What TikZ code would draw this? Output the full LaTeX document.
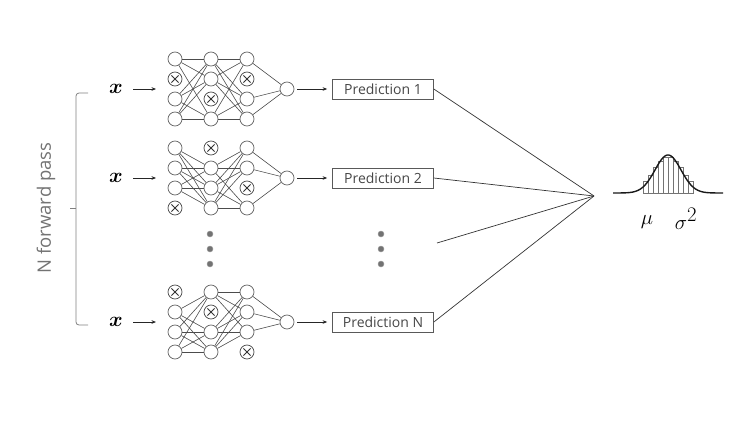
\documentclass[tikz,border=0pt]{standalone}
\usepackage{amsmath}
\usepackage{fontspec}
\newfontfamily\labelfont{Open Sans}
\usetikzlibrary{arrows.meta}
\begin{document}
\begin{tikzpicture}[x=1pt,y=-1pt,
  neuron/.style={circle,draw=black!60,fill=white,line width=0.75pt,minimum size=14pt,inner sep=0pt},
  dropped/.style={neuron,draw=black!70,path picture={
      \draw[line width=0.9pt,black!80]
        ([shift={(-3.6,-3.6)}]path picture bounding box.center) -- ++(7.2,7.2)
        ([shift={(-3.6,3.6)}]path picture bounding box.center) -- ++(7.2,-7.2);}},
  link/.style={draw=black!70,line width=0.6pt},
  arr/.style={draw=black!85,line width=0.7pt,-{Stealth[length=4.5pt,width=3.6pt]}},
  fan/.style={draw=black!80,line width=0.7pt},
  predbox/.style={draw=black!65,line width=0.7pt,minimum width=101pt,minimum height=20pt,
      inner sep=0pt,text=black!72,font=\labelfont\fontsize{14}{14}\selectfont},
  xlabel/.style={inner sep=0pt,font=\fontsize{20.74}{22}\selectfont},
  dot/.style={circle,fill=black!55,draw=black!40,minimum size=6pt,inner sep=0pt},
  brace/.style={draw=black!50,line width=0.8pt,rounded corners=3pt},
  bar/.style={draw=black!55,fill=white,line width=0.45pt}
]
\useasboundingbox (0,0) rectangle (754,420);

% three sampled networks (dropout masks per hidden layer)
\foreach \nn/\cy/\da/\db/\dc/\pl in {1/89/2/3/2/1, 2/178/4/1/3/2, 3/322/1/2/4/N}{
  \foreach \ly/\lx/\dr in {1/175/\da, 2/211/\db, 3/247/\dc}{
    \foreach \r in {1,...,4}{
      \ifnum\r=\dr \def\st{dropped}\else\def\st{neuron}\fi
      \node[\st] (n\nn-\ly-\r) at (\lx,{\cy-50+20*\r}) {};
    }
  }
  \node[neuron] (n\nn-o) at (287,\cy) {};
  % fully connected links between kept units
  \foreach \r in {1,...,4}{
    \foreach \s in {1,...,4}{
      \ifnum\r=\da\else\ifnum\s=\db\else\draw[link] (n\nn-1-\r) -- (n\nn-2-\s);\fi\fi
      \ifnum\r=\db\else\ifnum\s=\dc\else\draw[link] (n\nn-2-\r) -- (n\nn-3-\s);\fi\fi
    }
    \ifnum\r=\dc\else\draw[link] (n\nn-3-\r) -- (n\nn-o);\fi
  }
  % input
  \node[xlabel] (x\nn) at (116,\cy) {$\boldsymbol{x}$};
  \coordinate (in\nn) at (156,\cy);
  \draw[arr,shorten <=10pt] (x\nn.east) -- (in\nn);
  % prediction
  \node[predbox] (p\nn) at (383,\cy) {Prediction \pl};
  \draw[arr,shorten <=3pt,shorten >=5pt] (n\nn-o) -- (p\nn);
}

% vertical ellipses
\foreach \i/\yy in {1/234,2/249,3/264}{
  \node[dot] (dl\i) at (210,\yy) {};
  \node[dot] (dr\i) at (381,\yy) {};
}

% aggregation fan
\coordinate (conv) at (594,196);
\coordinate (pdots) at (437,243);
\foreach \nn in {1,2,3}{\draw[fan] (p\nn.east) -- (conv);}
\draw[fan] (pdots) -- (conv);

% histogram with fitted Gaussian
\foreach \i in {0,...,9}{
  \pgfmathsetmacro\bx{643+5*\i}
  \pgfmathsetmacro\bh{36*exp(-((\bx+2.5-668)^2)/(2*15^2))}
  \draw[bar] (\bx,193) rectangle ++(5,{-\bh});
}
\draw[black!90,line width=1.4pt] plot[domain=613:723,samples=150]
  (\x,{193-38*exp(-((\x-668)^2)/(2*13^2))});
\node[xlabel] (mu) at (647,222) {$\mu$};
\node[xlabel] (sig) at (686,219) {$\sigma^{\textstyle 2}$};

% brace over the N passes
\draw[brace] (88,93) -- (76,93) -- (76,325) -- (88,325);
\draw[draw=black!50,line width=0.8pt] (76,208) -- (70,208);
\node[rotate=90,text=black!55,font=\labelfont\fontsize{18.5}{18.5}\selectfont] (lbl) at (46,208) {N forward pass};
\end{tikzpicture}
\end{document}
